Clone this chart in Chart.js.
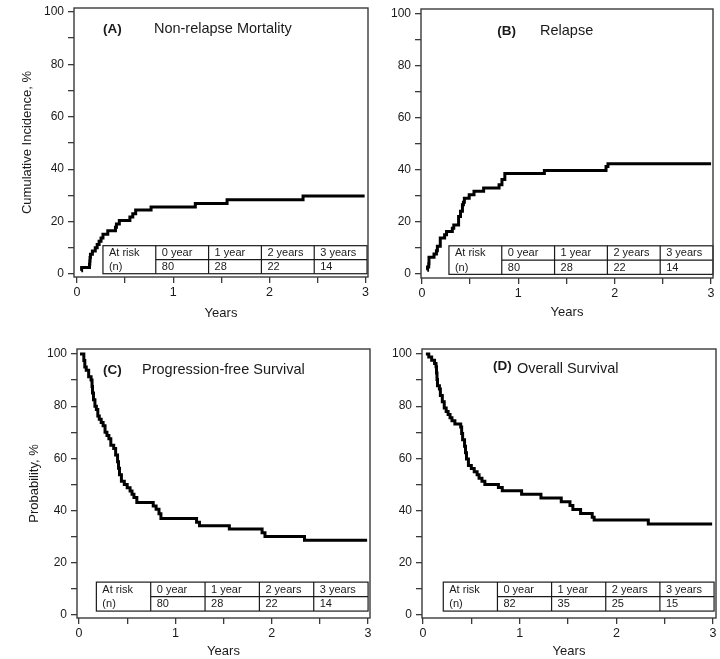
<!DOCTYPE html>
<html><head><meta charset="utf-8">
<script src="https://cdn.jsdelivr.net/npm/chart.js@4.4.1/dist/chart.umd.min.js"></script>
<style>
html,body{margin:0;padding:0;background:#fff;}
#wrap{position:relative;width:720px;height:659px;overflow:hidden;background:#fff;}
canvas{position:absolute;}
</style></head><body>
<div id="wrap">
<canvas id="cA" width="374" height="330" style="left:0px;top:0px"></canvas>
<canvas id="cB" width="360" height="330" style="left:360px;top:0px"></canvas>
<canvas id="cC" width="374" height="329" style="left:0px;top:330px"></canvas>
<canvas id="cD" width="360" height="329" style="left:360px;top:330px"></canvas>
</div>
<script>
// ---------- data ----------
const yearTicks = [0, 0.5, 1, 1.5, 2, 2.5, 3];
const percentTicks = [0, 10, 20, 30, 40, 50, 60, 70, 80, 90, 100];
const riskRowLabels = ['At risk', '(n)'];
const riskColumns = ['0 year', '1 year', '2 years', '3 years'];
const atRiskA = [80, 28, 22, 14];
const atRiskB = [80, 28, 22, 14];
const atRiskC = [80, 28, 22, 14];
const atRiskD = [82, 35, 25, 15];

// (A) Non-relapse mortality, cumulative incidence %
const nrmYears = [0.045,0.048,0.13,0.133,0.136,0.14,0.16,0.19,0.21,0.23,0.25,0.27,0.32,0.40,0.41,0.44,0.55,0.58,0.61,0.77,1.23,1.56,2.35,2.99];
const nrmPct   = [1.25,2.5,3.75,5,6.25,7.5,8.75,10,11.25,12.5,13.75,15.2,16.5,17.8,19.1,20.4,21.7,23,24.4,25.6,26.9,28.3,29.8,29.8];

// (B) Relapse, cumulative incidence %
const relapseYears = [0.055,0.058,0.07,0.073,0.125,0.15,0.16,0.19,0.235,0.255,0.315,0.33,0.38,0.40,0.42,0.43,0.44,0.49,0.54,0.64,0.80,0.83,0.86,1.27,1.91,1.93,3.0];
const relapsePct   = [1.25,2.5,3.75,6.25,7.5,8.75,10.5,13.75,15,16.25,17.5,18.75,22,24,26.5,27.5,29,30.4,31.7,33,34.2,36.2,38.5,39.7,41.2,42.3,42.3];

// (C) Progression-free survival %
const pfsYears = [0.01,0.05,0.06,0.075,0.10,0.125,0.135,0.14,0.15,0.165,0.18,0.195,0.21,0.23,0.25,0.27,0.29,0.31,0.33,0.36,0.38,0.40,0.41,0.42,0.44,0.47,0.50,0.53,0.55,0.57,0.60,0.77,0.80,0.83,0.85,1.22,1.25,1.56,1.90,1.93,2.34,2.99];
const pfsPct   = [100,97.5,95,93.75,91.25,90,87.5,85,82.5,80,78.75,76.25,75,73.75,72.5,70,68.75,67.5,65,63.75,61.25,58.75,56.25,53.75,51.25,50,48.75,47.5,46.25,45,43.1,41.8,40.5,38.8,37,35.5,34.2,32.9,31.5,30.1,28.6,28.6];

// (D) Overall survival %
const osYears = [0.03,0.06,0.09,0.12,0.135,0.14,0.145,0.15,0.17,0.18,0.20,0.22,0.24,0.26,0.28,0.30,0.33,0.39,0.40,0.41,0.43,0.44,0.45,0.47,0.50,0.53,0.56,0.58,0.61,0.64,0.78,0.82,1.02,1.22,1.43,1.52,1.55,1.63,1.75,1.77,2.33,2.99];
const osPct   = [100,98.8,97.6,96.3,95.1,92.7,90.2,87.8,86.6,84.1,81.7,79.3,78,76.8,75.6,74.4,73.2,72,69.5,67.1,64.6,62.2,59.8,57.3,56.1,54.9,53.7,52.4,51.2,50,48.8,47.6,46.3,44.8,43.4,41.9,40.4,38.9,37.4,36.4,34.9,34.9];

// ---------- drawing ----------
const FONT = '"Liberation Sans", Arial, Helvetica, sans-serif';
const INK = '#1a1a1a';
const AXIS = '#3a3a3a';

const framePlugin = {
  id: 'frame',
  afterDraw(chart) {
    const {ctx, chartArea: a} = chart;
    ctx.save();
    ctx.strokeStyle = AXIS;
    ctx.lineWidth = 1.4;
    ctx.strokeRect(a.left, a.top, a.right - a.left, a.bottom - a.top);
    ctx.restore();
  }
};

const tablePlugin = {
  id: 'riskTable',
  afterDatasetsDraw(chart, args, o) {
    const {ctx, scales: {x, y}} = chart;
    const L = x.getPixelForValue(o.x0), R = x.getPixelForValue(o.x1);
    const T = y.getPixelForValue(o.y1), B = y.getPixelForValue(o.y0);
    const M = (T + B) / 2;
    const n = o.columns.length + 1;
    const cw = (R - L) / n;
    ctx.save();
    ctx.fillStyle = '#fff';
    ctx.fillRect(L, T, R - L, B - T);
    ctx.strokeStyle = INK;
    ctx.lineWidth = 1.2;
    ctx.strokeRect(L, T, R - L, B - T);
    ctx.beginPath();
    for (let i = 1; i < n; i++) {
      ctx.moveTo(L + cw * i, T);
      ctx.lineTo(L + cw * i, B);
    }
    ctx.moveTo(L + cw, M);
    ctx.lineTo(R, M);
    ctx.stroke();
    ctx.fillStyle = INK;
    ctx.font = '11px ' + FONT;
    ctx.textAlign = 'left';
    ctx.textBaseline = 'middle';
    const pad = 6;
    ctx.fillText(o.rows[0], L + pad, (T + M) / 2 + 0.5);
    ctx.fillText(o.rows[1], L + pad, (M + B) / 2 + 0.5);
    o.columns.forEach((c, i) => {
      ctx.fillText(c, L + cw * (i + 1) + pad, (T + M) / 2 + 0.5);
      ctx.fillText(String(o.values[i]), L + cw * (i + 1) + pad, (M + B) / 2 + 0.5);
    });
    ctx.restore();
  }
};

const titlePlugin = {
  id: 'panelTitle',
  afterDraw(chart, args, o) {
    const {ctx, scales: {x, y}} = chart;
    ctx.save();
    ctx.fillStyle = INK;
    ctx.textAlign = 'left';
    ctx.textBaseline = 'middle';
    ctx.font = 'bold 13.5px ' + FONT;
    ctx.fillText(o.tag, x.getPixelForValue(o.tagX), y.getPixelForValue(o.tagY));
    ctx.font = '14.5px ' + FONT;
    ctx.fillText(o.text, x.getPixelForValue(o.textX), y.getPixelForValue(o.textY));
    ctx.restore();
  }
};

function makePanel(id, years, pct, cfg) {
  const data = years.map((t, i) => ({x: t, y: pct[i]}));
  return new Chart(document.getElementById(id), {
    type: 'line',
    data: {datasets: [{
      data,
      stepped: 'before',
      borderColor: '#000',
      borderWidth: 3,
      pointRadius: 0,
      fill: false,
      tension: 0
    }]},
    plugins: [framePlugin, tablePlugin, titlePlugin],
    options: {
      responsive: false,
      animation: false,
      events: [],
      layout: {padding: {top: cfg.padTop, right: cfg.padRight, left: 0, bottom: 0}},
      plugins: {
        legend: {display: false},
        tooltip: {enabled: false},
        riskTable: {
          x0: cfg.table[0], x1: cfg.table[1], y0: cfg.table[2], y1: cfg.table[3],
          rows: riskRowLabels, columns: riskColumns, values: cfg.atRisk
        },
        panelTitle: cfg.title
      },
      scales: {
        x: {
          type: 'linear',
          min: cfg.xRange[0], max: cfg.xRange[1],
          afterBuildTicks: s => { s.ticks = yearTicks.map(v => ({value: v})); },
          afterFit: s => { s.height = cfg.xHeight; s.paddingLeft = 0; s.paddingRight = 0; },
          grid: {display: true, drawOnChartArea: false, drawTicks: true, tickLength: 6, color: AXIS, lineWidth: 1.3},
          border: {display: false},
          ticks: {
            autoSkip: false, maxRotation: 0, padding: 2, color: INK,
            font: {family: FONT, size: 12.5},
            callback: v => Number.isInteger(v) ? String(v) : ''
          },
          title: {display: true, text: 'Years', color: INK, font: {family: FONT, size: 13}, padding: {top: 0, bottom: cfg.xTitlePad}}
        },
        y: {
          type: 'linear',
          min: cfg.yRange[0], max: cfg.yRange[1],
          afterBuildTicks: s => { s.ticks = percentTicks.map(v => ({value: v})); },
          afterFit: s => { s.width = cfg.yWidth; s.paddingTop = 0; s.paddingBottom = 0; },
          grid: {display: true, drawOnChartArea: false, drawTicks: true, tickLength: 6, color: AXIS, lineWidth: 1.3},
          border: {display: false},
          ticks: {
            autoSkip: false, padding: 4, color: INK,
            font: {family: FONT, size: 12},
            callback: v => (v % 20 === 0) ? String(v) : ''
          },
          title: {display: !!cfg.yTitle, text: cfg.yTitle || '', color: INK, font: {family: FONT, size: 13}, padding: {top: cfg.yTitlePad || 0, bottom: 0}}
        }
      }
    }
  });
}

makePanel('cA', nrmYears, nrmPct, {
  padTop: 8, padRight: 6, yWidth: 74, xHeight: 53, xTitlePad: 9,
  xRange: [-0.031, 3.025], yRange: [-1.15, 101.5],
  yTitle: 'Cumulative Incidence, %', yTitlePad: 20,
  table: [0.27, 3.015, 0.1, 10.8], atRisk: atRiskA,
  title: {tag: '(A)', tagX: 0.27, tagY: 93.5, text: 'Non-relapse Mortality', textX: 0.80, textY: 93.5}
});
makePanel('cB', relapseYears, relapsePct, {
  padTop: 9, padRight: 7, yWidth: 61, xHeight: 52, xTitlePad: 9.5,
  xRange: [-0.01, 3.02], yRange: [-1.7, 101.9],
  yTitle: null,
  table: [0.28, 3.02, -0.3, 10.7], atRisk: atRiskB,
  title: {tag: '(B)', tagX: 0.78, tagY: 93.4, text: 'Relapse', textX: 1.225, textY: 93.4}
});
makePanel('cC', pfsYears, pfsPct, {
  padTop: 19, padRight: 4, yWidth: 77, xHeight: 41, xTitlePad: 0,
  xRange: [-0.021, 3.02], yRange: [-1.15, 101.9],
  yTitle: 'Probability, %', yTitlePad: 27,
  table: [0.18, 3.0, 1.5, 12.6], atRisk: atRiskC,
  title: {tag: '(C)', tagX: 0.25, tagY: 93.9, text: 'Progression-free Survival', textX: 0.654, textY: 93.9}
});
makePanel('cD', osYears, osPct, {
  padTop: 19, padRight: 4, yWidth: 62, xHeight: 41, xTitlePad: 0,
  xRange: [-0.01, 3.03], yRange: [-1.15, 101.9],
  yTitle: null,
  table: [0.21, 3.01, 1.5, 12.6], atRisk: atRiskD,
  title: {tag: '(D)', tagX: 0.724, tagY: 95.4, text: 'Overall Survival', textX: 0.972, textY: 94.3}
});
</script>
</body></html>
